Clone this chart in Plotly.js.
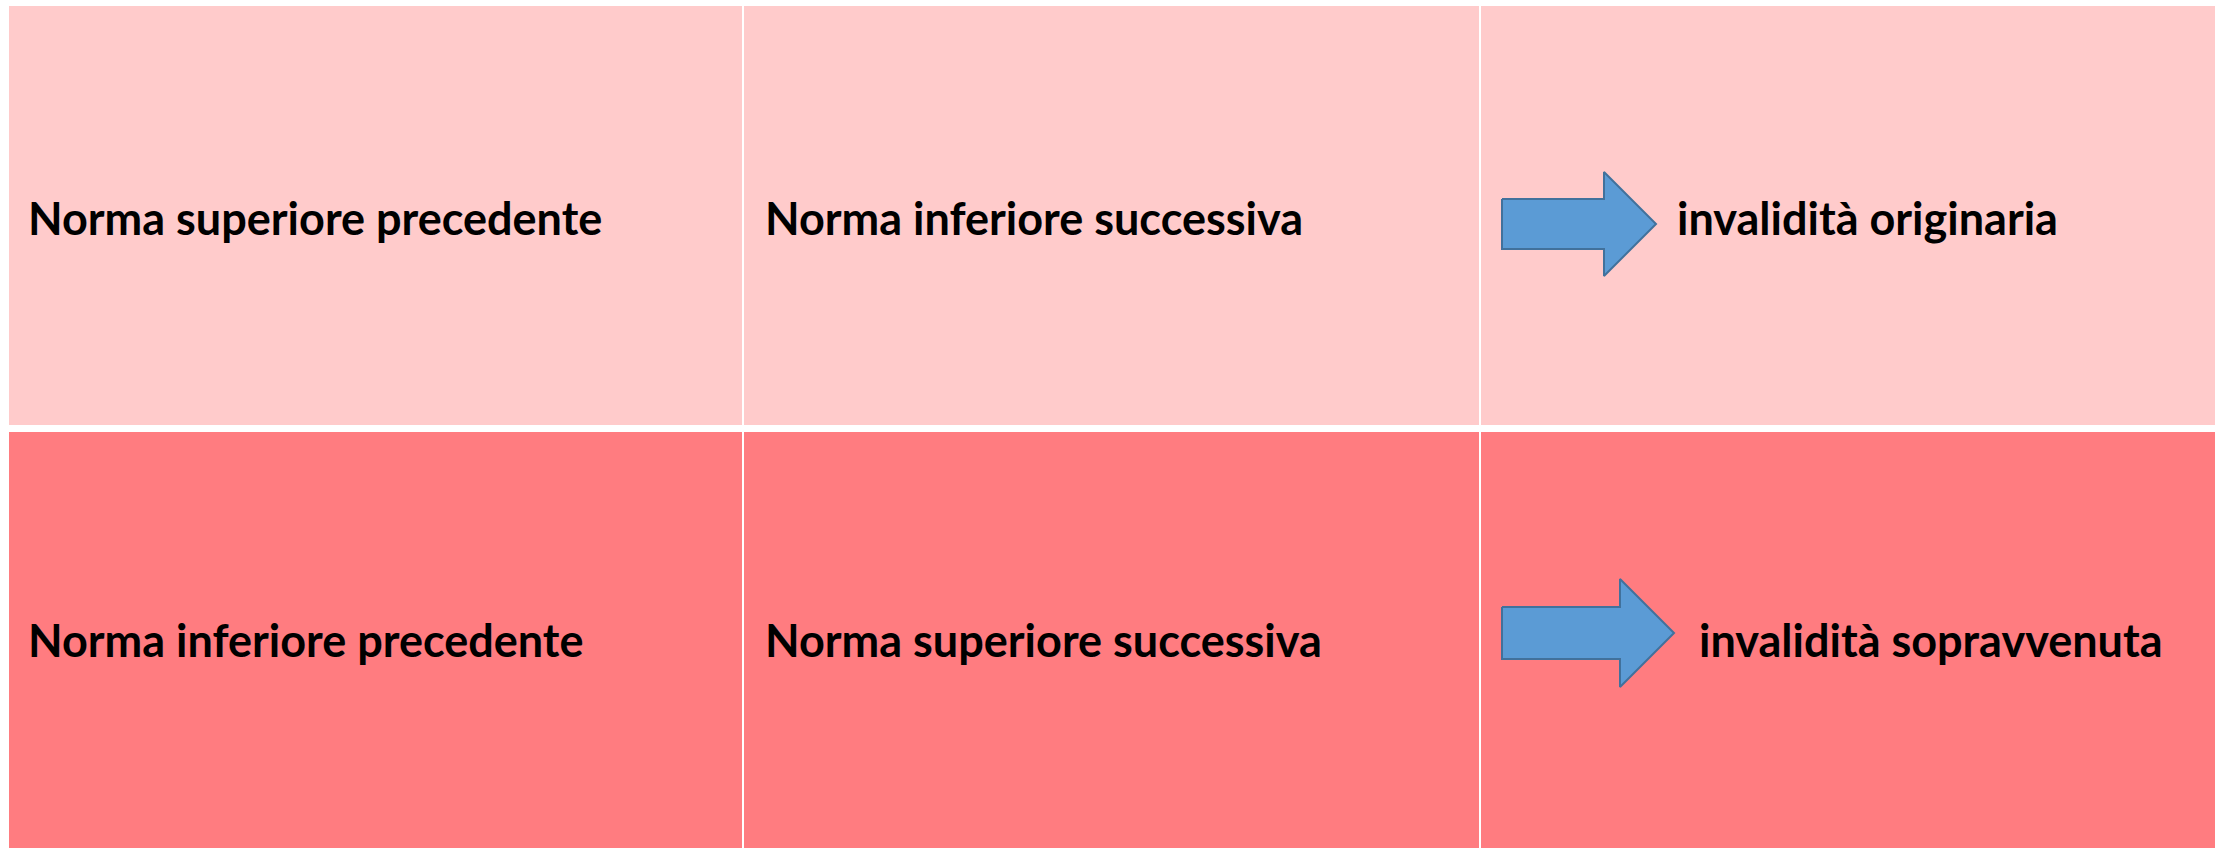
<!DOCTYPE html>
<html>
<head>
<meta charset="utf-8">
<script src="https://cdn.plot.ly/plotly-3.0.1.min.js"></script>
<style>html,body{margin:0;padding:0;background:#fff;}#chart{width:2221px;height:848px;}</style>
</head>
<body>
<div id="chart"></div>
<script>
// ---- content ----
var precedingNorms = ["Norma superiore precedente", "Norma inferiore precedente"];
var followingNorms = ["Norma inferiore successiva", "Norma superiore successiva"];
var outcomes = ["invalidità originaria", "invalidità sopravvenuta"];

// ---- geometry (layout only) ----
var W = 2221, H = 848;
var tableLeft = 9, tableRight = 2215;
var rowTops = [6, 432], rowBottoms = [425, 848];
var colEdges = [tableLeft, 743, 1480, tableRight];
var rowFill = ["#FFCBCB", "#FF7C80"];
var textY = [218, 640];
var arrows = [
  {x0: 1502, xh: 1604, x1: 1656, yc: 224, bh: 25, hh: 52},
  {x0: 1502, xh: 1620, x1: 1674, yc: 633, bh: 26, hh: 54}
];
var outcomeX = [1675, 1697];

var shapes = [], annotations = [], traces = [];
for (var r = 0; r < 2; r++) {
  for (var c = 0; c < 3; c++) {
    shapes.push({type: "rect", xref: "x", yref: "y", layer: "below",
      x0: colEdges[c] + (c > 0 ? 1 : 0), x1: colEdges[c + 1] - (c < 2 ? 1 : 0),
      y0: rowTops[r], y1: rowBottoms[r],
      fillcolor: rowFill[r], line: {width: 0}});
  }
  var a = arrows[r];
  traces.push({
    type: "scatter", mode: "lines", fill: "toself",
    x: [a.x0, a.xh, a.xh, a.x1, a.xh, a.xh, a.x0, a.x0],
    y: [a.yc - a.bh, a.yc - a.bh, a.yc - a.hh, a.yc, a.yc + a.hh, a.yc + a.bh, a.yc + a.bh, a.yc - a.bh],
    fillcolor: "#5B9BD5", line: {color: "#41719C", width: 2},
    hoverinfo: "skip", showlegend: false
  });
  var font = {family: "Lato, 'Open Sans', sans-serif", size: 45, color: "#000000", weight: 700};
  annotations.push({x: 26, y: textY[r], xref: "x", yref: "y", text: precedingNorms[r],
    xanchor: "left", yanchor: "middle", showarrow: false, font: font});
  annotations.push({x: 763, y: textY[r], xref: "x", yref: "y", text: followingNorms[r],
    xanchor: "left", yanchor: "middle", showarrow: false, font: font});
  annotations.push({x: outcomeX[r], y: textY[r], xref: "x", yref: "y", text: outcomes[r],
    xanchor: "left", yanchor: "middle", showarrow: false, font: font});
}

var layout = {
  width: W, height: H,
  margin: {l: 0, r: 0, t: 0, b: 0, pad: 0},
  paper_bgcolor: "#ffffff", plot_bgcolor: "#ffffff",
  xaxis: {range: [0, W], visible: false, fixedrange: true},
  yaxis: {range: [H, 0], visible: false, fixedrange: true},
  shapes: shapes, annotations: annotations, showlegend: false
};
Plotly.newPlot("chart", traces, layout, {displayModeBar: false, staticPlot: true});
</script>
</body>
</html>
